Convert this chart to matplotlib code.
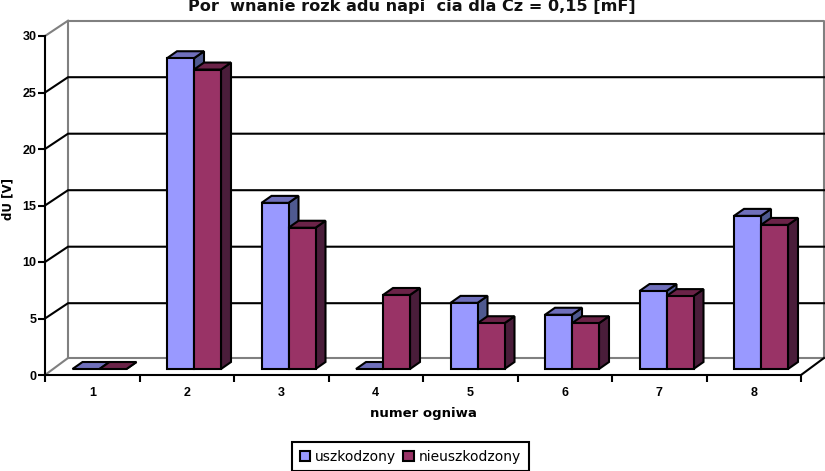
import matplotlib
matplotlib.use('Agg')
import matplotlib.pyplot as plt
from matplotlib.patches import Patch

plt.rcParams['font.family'] = ['Liberation Sans', 'DejaVu Sans']

# data
categories = ['1', '2', '3', '4', '5', '6', '7', '8']
uszkodzony = [0, 27.5, 14.7, 0, 5.85, 4.8, 6.9, 13.55]
nieuszkodzony = [0, 26.5, 12.5, 6.55, 4.05, 4.05, 6.45, 12.75]
yticks = [0, 5, 10, 15, 20, 25, 30]

W, H = 825, 471
fig = plt.figure(figsize=(W / 100, H / 100), dpi=100)
ax = fig.add_axes([45 / W, (H - 375) / H, 756 / W, 339 / H])
ax.set_xlim(0, 8)
ax.set_ylim(0, 30)

# pixels to data units, for the fake 3d depth
px = 8 / 756
py = 30 / 339
wall_dx, wall_dy = 23 * px, 15.3 * py
floor_dy = 17 * py
depth_dx, depth_dy = 10 * px, 7 * py
lift = 6 * py
LW = 1.5

# walls
grey = '#808080'
ax.plot([wall_dx, wall_dx, 8 + wall_dx, 8 + wall_dx],
        [floor_dy, 30 + wall_dy, 30 + wall_dy, floor_dy], color=grey, lw=LW, clip_on=False, zorder=1)
ax.plot([0, wall_dx, 8 + wall_dx], [0, floor_dy, floor_dy], color=grey, lw=LW, clip_on=False, zorder=1)
ax.plot([0, wall_dx], [30, 30 + wall_dy], color=grey, lw=LW, clip_on=False, zorder=1)
ax.plot([8, 8 + wall_dx], [0, floor_dy], color='black', lw=LW, clip_on=False, zorder=1)

# gridlines on the back wall and the side wall
for v in yticks[1:-1]:
    ax.plot([0, wall_dx, 8 + wall_dx], [v, v + wall_dy, v + wall_dy], color='black', lw=LW,
            clip_on=False, zorder=1)


def bar3d(x, w, val, front, top, side, z):
    y0 = lift
    y1 = lift + val
    kw = dict(edgecolor='black', lw=LW, clip_on=False, zorder=z, joinstyle='miter')
    ax.fill([x + w, x + w + depth_dx, x + w + depth_dx, x + w],
            [y0, y0 + depth_dy, y1 + depth_dy, y1], facecolor=side, **kw)
    ax.fill([x, x + depth_dx, x + w + depth_dx, x + w],
            [y1, y1 + depth_dy, y1 + depth_dy, y1], facecolor=top, **kw)
    if val > 0:
        ax.fill([x, x + w, x + w, x], [y0, y0, y1, y1], facecolor=front, **kw)


bw = 27 * px
off = 27.5 * px
for i in range(len(categories)):
    bar3d(i + off, bw, uszkodzony[i], '#9999FF', '#6F6FBB', '#4F5A90', 3 + i)
    bar3d(i + off + bw, bw, nieuszkodzony[i], '#993366', '#6B2348', '#4A1D3A', 3.5 + i)

# axes
for s in ['top', 'right']:
    ax.spines[s].set_visible(False)
for s in ['left', 'bottom']:
    ax.spines[s].set_linewidth(LW)
    ax.spines[s].set_zorder(2)
ax.patch.set_visible(False)
ax.set_yticks(yticks)
ax.set_xticks(range(9))
ax.set_xticklabels([])
ax.set_xticks([i + 0.5 for i in range(8)], minor=True)
ax.set_xticklabels(categories, minor=True, fontsize=9, fontweight='bold')
ax.tick_params(axis='x', which='major', length=5, width=LW)
ax.tick_params(axis='x', which='minor', length=0, pad=9)
ax.tick_params(axis='y', length=5, width=LW, pad=1, labelsize=9)
for t in ax.get_yticklabels():
    t.set_fontweight('bold')

wide = ['DejaVu Sans']
fig.text(412 / W, 1 - 7 / H, 'Por  wnanie rozk adu napi  cia dla Cz = 0,15 [mF]', ha='center', va='center',
         fontsize=11.6, fontweight='bold', family=wide, color='#111111')
fig.text(8 / W, 1 - 199 / H, 'dU [V]', rotation=90, ha='center', va='center', fontsize=8.5, fontweight='bold',
         family=wide)
fig.text(423 / W, 1 - 414 / H, 'numer ogniwa', ha='center', va='center', fontsize=9.5, fontweight='bold',
         family=wide)

handles = [Patch(facecolor='#9999FF', edgecolor='black', lw=LW),
           Patch(facecolor='#993366', edgecolor='black', lw=LW)]
leg = fig.legend(handles, ['uszkodzony', 'nieuszkodzony'], ncol=2, loc='center',
                 bbox_to_anchor=(410.5 / W, 1 - 456.5 / H), fancybox=False, framealpha=1,
                 edgecolor='black', handlelength=0.75, handleheight=0.75, handletextpad=0.35, columnspacing=0.5,
                 borderpad=0.55, borderaxespad=0, prop={'family': 'DejaVu Sans', 'size': 10})
leg.get_frame().set_linewidth(LW)

fig.savefig('out.png', dpi=100)
